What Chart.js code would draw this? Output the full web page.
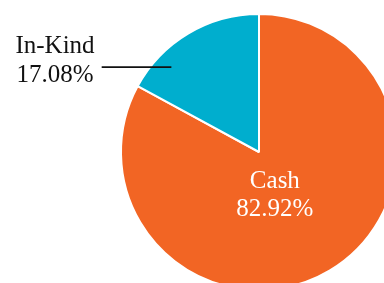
<!DOCTYPE html>
<html>
<head>
<meta charset="utf-8">
<script src="https://cdn.jsdelivr.net/npm/chart.js@4/dist/chart.umd.min.js"></script>
<style>
  html, body { margin: 0; padding: 0; background: #fff; overflow: hidden; }
  #wrap { position: absolute; left: 0; top: 0; width: 400px; height: 304px; }
</style>
</head>
<body>
<div id="wrap"><canvas id="pie"></canvas></div>
<script>
const categories = ['Cash', 'In-Kind'];
const shares = [82.92, 17.08];
const sliceColors = ['#F26524', '#00AECE'];

// draws the two labels (one inside, one with a leader line)
const labelPlugin = {
  id: 'sliceLabels',
  afterDatasetsDraw(chart) {
    const ctx = chart.ctx;
    const arcs = chart.getDatasetMeta(0).data;
    const a = arcs[0];
    const cx = a.x, cy = a.y, r = a.outerRadius;
    ctx.save();
    ctx.font = '25px "Liberation Serif", serif';
    ctx.textAlign = 'center';
    ctx.textBaseline = 'alphabetic';

    // Cash inside slice
    ctx.fillStyle = '#fff';
    ctx.fillText(categories[0], cx + 0.115 * r, cy + 0.261 * r);
    ctx.fillText(shares[0].toFixed(2) + '%', cx + 0.115 * r, cy + 0.464 * r);

    // In-Kind outside with line
    const ly = cy - 0.615 * r;
    ctx.strokeStyle = '#111';
    ctx.lineWidth = 1.6;
    ctx.beginPath();
    ctx.moveTo(cx - 1.14 * r, ly);
    ctx.lineTo(cx - 0.635 * r, ly);
    ctx.stroke();
    ctx.fillStyle = '#111';
    ctx.fillText(categories[1], 55, cy - 0.717 * r);
    ctx.fillText(shares[1].toFixed(2) + '%', 55, cy - 0.507 * r);
    ctx.restore();
  }
};

new Chart(document.getElementById('pie'), {
  type: 'pie',
  data: {
    labels: categories,
    datasets: [{
      data: shares,
      backgroundColor: sliceColors,
      borderColor: '#fff',
      borderWidth: 2
    }]
  },
  options: {
    responsive: true,
    maintainAspectRatio: false,
    animation: false,
    radius: 138,
    layout: { padding: { left: 118, right: 0, top: 0, bottom: 0 } },
    plugins: {
      legend: { display: false },
      tooltip: { enabled: false }
    }
  },
  plugins: [labelPlugin]
});
</script>
</body>
</html>
